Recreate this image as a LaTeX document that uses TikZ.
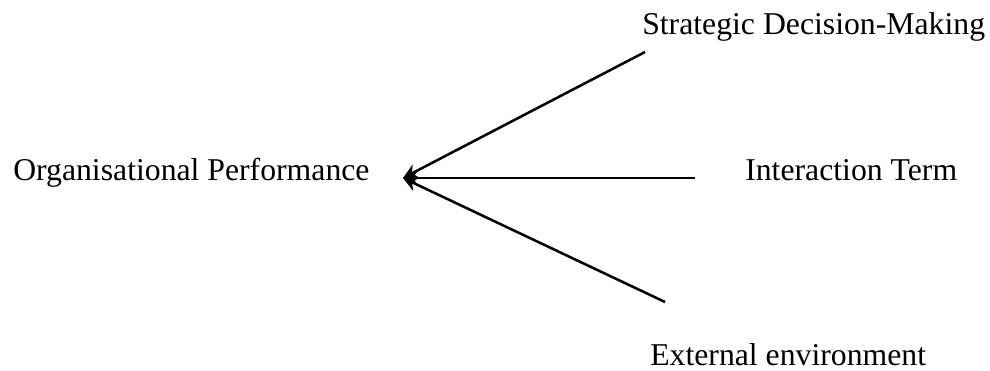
\documentclass[tikz,border=0pt]{standalone}
\usepackage{fontspec}
\setmainfont{Liberation Serif}
\usetikzlibrary{arrows.meta}
\begin{document}
\begin{tikzpicture}[x=0.75pt,y=-0.75pt,
  lbl/.style={anchor=base west,inner sep=0pt,font=\fontsize{23.8}{28}\selectfont},
  link/.style={line width=1.9pt,-{Stealth[length=11pt,width=11pt]}}]
\useasboundingbox (0,0) rectangle (990,371);
\node[lbl] (op) at (13,180) {Organisational Performance};
\node[lbl] (sd) at (642,35) {Strategic Decision-Making};
\node[lbl] (it) at (745,180) {Interaction Term};
\node[lbl] (ee) at (650,365) {External environment};
\coordinate (tip) at (403,178);
\coordinate (s1) at (645,52);
\coordinate (s2) at (695,178);
\coordinate (s3) at (665,302);
\draw[link] (s1) -- (tip);
\draw[link] (s2) -- (tip);
\draw[link] (s3) -- (tip);
\end{tikzpicture}
\end{document}
